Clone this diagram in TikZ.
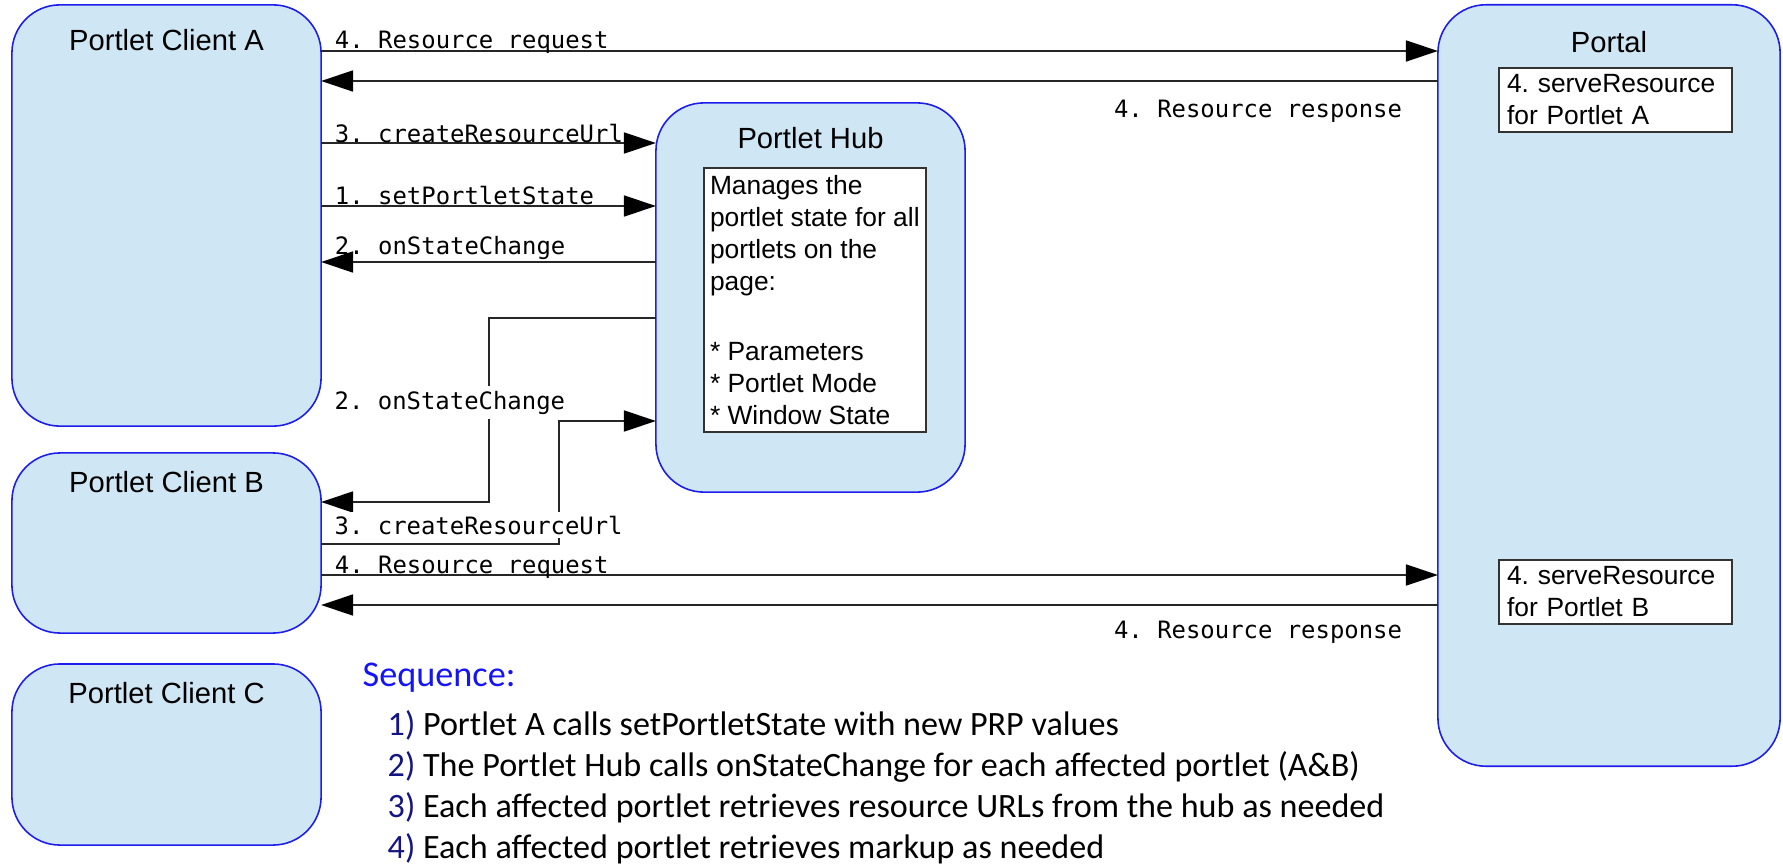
\documentclass[tikz,border=0pt]{standalone}
\usepackage{fontspec}
\setmainfont{Liberation Sans}
\newfontfamily\monofont{DejaVu Sans Mono}
\newfontfamily\seqfont{Carlito}
\usepackage{tikz}
\usetikzlibrary{positioning, arrows.meta}
\frenchspacing

\definecolor{boxblue}{RGB}{207,230,244}
\definecolor{edgeblue}{RGB}{30,30,235}
\definecolor{seqblue}{RGB}{20,20,245}
\definecolor{seqnum}{RGB}{20,20,130}

\begin{document}
\begin{tikzpicture}[x=0.01cm, y=-0.01cm,
    pbox/.style={draw=edgeblue, fill=boxblue, line width=0.45pt, rounded corners=0.48cm, inner sep=0pt, outer sep=0pt},
    ptitle/.style={font=\fontsize{8.3}{10}\selectfont, inner sep=0pt},
    note/.style={draw=black!80, fill=white, line width=0.5pt, align=left, inner ysep=0pt, outer sep=0pt, font=\fontsize{7.5}{9.1}\selectfont},
    msg/.style={draw=black!85, line width=0.5pt, -{Triangle[length=0.32cm, width=0.21cm, color=black]}},
    msglbl/.style={font=\monofont\fontsize{6.8}{8}\selectfont, inner sep=0pt},
    seqitem/.style={font=\seqfont\fontsize{9.7}{11}\selectfont, inner sep=0pt}]

  \useasboundingbox (0,0) rectangle (1783,867);

  % clients, hub and portal
  \node[pbox, minimum width=3.09cm, minimum height=4.21cm] (ca) at (166.5,215.5) {};
  \node[pbox, minimum width=3.09cm, minimum height=1.80cm] (cb) at (166.5,543) {};
  \node[pbox, minimum width=3.09cm, minimum height=1.81cm] (cc) at (166.5,754.5) {};
  \node[pbox, minimum width=3.09cm, minimum height=3.89cm] (hub) at (810.5,297.5) {};
  \node[pbox, minimum width=3.42cm, minimum height=7.61cm] (portal) at (1609,385.5) {};

  \node[ptitle] (caT) at (166.5,40) {Portlet Client A};
  \node[ptitle] (cbT) at (166.5,482) {Portlet Client B};
  \node[ptitle] (ccT) at (166.5,693) {Portlet Client C};
  \node[ptitle] (hubT) at (810.5,138) {Portlet Hub};
  \node[ptitle] (portalT) at (1609,42) {Portal};

  \node[note, inner xsep=0.06cm, minimum height=2.64cm, anchor=north west] (hubNote) at (704,168)
    {Manages the\\portlet state for all\\portlets on the\\page:\\[11pt]* Parameters\\* Portlet Mode\\* Window State};
  \node[note, inner xsep=0.08cm, text width=2.17cm, minimum height=0.64cm, anchor=north west] (srvA) at (1499,68)
    {4. serveResource\\for Portlet A};
  \node[note, inner xsep=0.08cm, text width=2.17cm, minimum height=0.64cm, anchor=north west] (srvB) at (1499,560)
    {4. serveResource\\for Portlet B};

  % message levels
  \foreach \n/\y in {rqA/51, rsA/81, crA/143, spA/206, ocA/262, ocH/318, crH/421, ocB/502, crB/544, rqB/575, rsB/605}
    \coordinate (\n) at (0,\y);
  \coordinate (kOc) at (489,0);
  \coordinate (kCr) at (559,0);

  % messages
  \draw[msg] (ca.east |- rqA) -- (portal.west |- rqA)
    node[msglbl, at start, anchor=base west, xshift=0.13cm, yshift=0.02cm] (lRqA) {4. Resource request};
  \draw[msg] (portal.west |- rsA) -- (ca.east |- rsA)
    node[msglbl, at start, anchor=base east, xshift=-0.35cm, yshift=-0.36cm] (lRsA) {4. Resource response};
  \draw[msg] (ca.east |- crA) -- (hub.west |- crA)
    node[msglbl, at start, anchor=base west, xshift=0.13cm] (lCrA) {3. createResourceUrl};
  \draw[msg] (ca.east |- spA) -- (hub.west |- spA)
    node[msglbl, at start, anchor=base west, xshift=0.13cm, yshift=0.02cm] (lSpA) {1. setPortletState};
  \draw[msg] (hub.west |- ocA) -- (ca.east |- ocA)
    node[msglbl, at end, anchor=base west, xshift=0.13cm, yshift=0.07cm] (lOcA) {2. onStateChange};

  \draw[msg] (hub.west |- ocH) -- (kOc |- ocH) -- (kOc |- ocB) -- (cb.east |- ocB);
  \node[msglbl, fill=white, inner ysep=1.5pt, anchor=base west] (lOcB) at (334,409) {2. onStateChange};
  \draw[msg] (cb.east |- crB) -- (kCr |- crB) -- (kCr |- crH) -- (hub.west |- crH);
  \node[msglbl, fill=white, inner ysep=1pt, anchor=base west] (lCrB) at (334,534) {3. createResourceUrl};

  \draw[msg] (cb.east |- rqB) -- (portal.west |- rqB)
    node[msglbl, at start, anchor=base west, xshift=0.13cm, yshift=0.02cm] (lRqB) {4. Resource request};
  \draw[msg] (portal.west |- rsB) -- (cb.east |- rsB)
    node[msglbl, at start, anchor=base east, xshift=-0.35cm, yshift=-0.33cm] (lRsB) {4. Resource response};

  % sequence
  \node[font=\seqfont\fontsize{10.3}{12}\selectfont, text=seqblue, inner sep=0pt, anchor=base west] (seqT) at (362,686) {Sequence:};
  \foreach \i/\txt in {1/{Portlet A calls setPortletState with new PRP values},
                       2/{The Portlet Hub calls onStateChange for each affected portlet (A\&B)},
                       3/{Each affected portlet retrieves resource URLs from the hub as needed},
                       4/{Each affected portlet retrieves markup as needed}}
    \node[seqitem, anchor=base west] (seq\i) at (387,{735+41*(\i-1)}) {\textcolor{seqnum}{\i)} \txt};
\end{tikzpicture}
\end{document}
